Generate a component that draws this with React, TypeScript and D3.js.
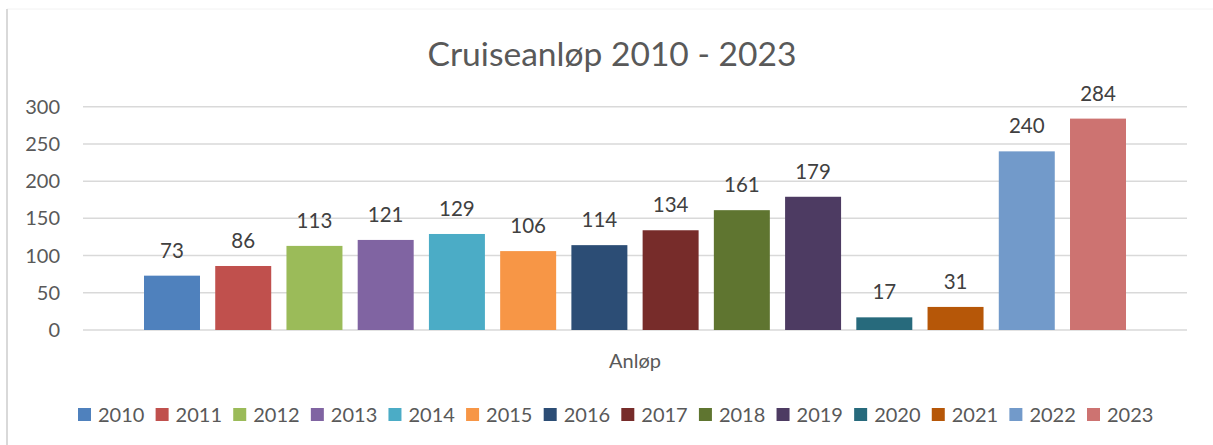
import React from "react";
import * as d3 from "d3";

const years = ["2010","2011","2012","2013","2014","2015","2016","2017","2018","2019","2020","2021","2022","2023"];
const values = [73, 86, 113, 121, 129, 106, 114, 134, 161, 179, 17, 31, 240, 284];
const colors = ["#4F81BD","#C0504D","#9BBB59","#8064A2","#4BACC6","#F79646","#2C4D75","#772C2A","#5F7530","#4D3B62","#276A7C","#B65708","#729ACA","#CD7371"];
const yTicks = [0, 50, 100, 150, 200, 250, 300];
const title = "Cruiseanløp 2010 - 2023";
const categoryLabel = "Anløp";

const W = 1213;
const H = 445;
const FONT = "Lato, 'Open Sans', sans-serif";

export default function App() {
  const plotLeft = 83;
  const plotRight = 1187;
  const y = d3.scaleLinear().domain([0, 300]).range([330, 106.7]);
  const x = d3.scaleBand<string>().domain(years).range([144, 1126]).paddingInner(0.214).paddingOuter(0);
  const legendX = d3.scalePoint<string>().domain(years).range([78, 1087]);

  return (
    <svg width={W} height={H} style={{ position: "absolute", left: 0, top: 0, background: "#fff" }} fontFamily={FONT}>
      <rect x={0} y={0} width={W} height={H} fill="#fff" />
      <line x1={7} x2={W} y1={9} y2={9} stroke="#f2f2f2" strokeWidth={1} />
      <line x1={7} x2={7} y1={9} y2={H} stroke="#d9d9d9" strokeWidth={2} />
      <text x={612} y={66} textAnchor="middle" fontSize={33.6} fill="#595959">{title}</text>
      {yTicks.map((t) => (
        <g key={t}>
          <line x1={plotLeft} x2={plotRight} y1={y(t)} y2={y(t)} stroke="#d9d9d9" strokeWidth={1.5} />
          <text x={60} y={y(t)} dy="0.35em" textAnchor="end" fontSize={20} fill="#595959">{t}</text>
        </g>
      ))}
      {years.map((yr, i) => (
        <g key={yr}>
          <rect x={x(yr)} y={y(values[i])} width={x.bandwidth()} height={y(0) - y(values[i])} fill={colors[i]} />
          <text x={(x(yr) as number) + x.bandwidth() / 2} y={y(values[i]) - 18} textAnchor="middle" fontSize={20.5} fill="#404040">{values[i]}</text>
        </g>
      ))}
      <text x={(plotLeft + plotRight) / 2} y={368} textAnchor="middle" fontSize={20} fill="#595959">{categoryLabel}</text>
      {years.map((yr, i) => (
        <g key={"lg" + yr}>
          <rect x={legendX(yr)} y={408} width={13} height={13} fill={colors[i]} />
          <text x={(legendX(yr) as number) + 20} y={422} fontSize={20} fill="#595959">{yr}</text>
        </g>
      ))}
    </svg>
  );
}
